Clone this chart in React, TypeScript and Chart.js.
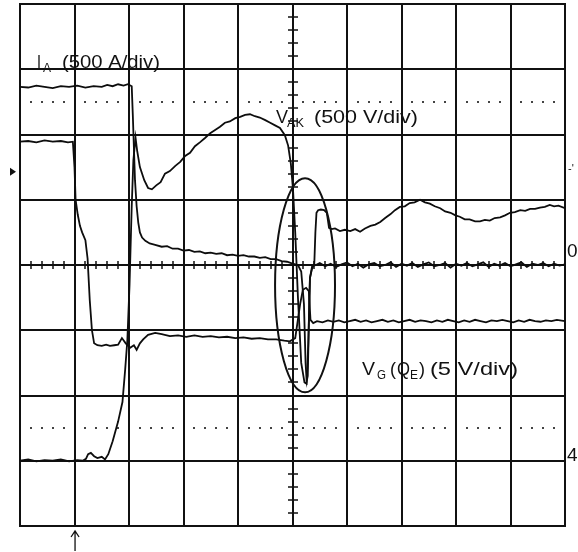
import React, { useEffect, useRef } from "react";
import { Chart, registerables } from "chart.js";

Chart.register(...registerables);

// Oscilloscope screen: 10 horizontal divisions, 8 vertical divisions (values in divisions)
const timeDivs = [-5, 5];
const levelDivs = [-4, 4];

// I_A (500 A/div)
const iaTrace: [number, number][] = [
  [-5.0, 2.73], [-4.85, 2.72], [-4.7, 2.75], [-4.55, 2.73], [-4.4, 2.71], [-4.25, 2.74], [-4.1, 2.73],
  [-3.95, 2.75], [-3.8, 2.72], [-3.65, 2.74], [-3.5, 2.73], [-3.4, 2.76], [-3.3, 2.74], [-3.2, 2.77],
  [-3.1, 2.75], [-3.02, 2.77], [-2.95, 2.74], [-2.93, 2.3], [-2.91, 1.8], [-2.89, 1.3], [-2.86, 0.9],
  [-2.83, 0.65], [-2.8, 0.5], [-2.76, 0.42], [-2.7, 0.37], [-2.62, 0.33], [-2.52, 0.31], [-2.4, 0.28],
  [-2.3, 0.29], [-2.2, 0.25], [-2.1, 0.25], [-2.0, 0.22], [-1.9, 0.23], [-1.8, 0.2], [-1.7, 0.21],
  [-1.6, 0.18], [-1.5, 0.19], [-1.4, 0.17], [-1.3, 0.18], [-1.2, 0.15], [-1.1, 0.16], [-1.0, 0.14],
  [-0.9, 0.15], [-0.8, 0.13], [-0.7, 0.13], [-0.6, 0.11], [-0.5, 0.12], [-0.4, 0.09], [-0.3, 0.09],
  [-0.2, 0.06], [-0.1, 0.05], [0.0, 0.02], [0.1, 0.0], [0.16, -0.1], [0.21, -0.6], [0.24, -1.5],
  [0.26, -1.78], [0.28, -1.7], [0.3, -0.9], [0.32, -0.2], [0.36, -0.02], [0.43, 0.0], [0.5, 0.03],
  [0.6, -0.02], [0.7, 0.02], [0.8, -0.03], [0.9, 0.01], [1.0, 0.04], [1.1, -0.02], [1.2, 0.02],
  [1.3, -0.04], [1.4, 0.01], [1.5, 0.03], [1.6, -0.02], [1.7, 0.0], [1.8, 0.04], [1.9, -0.03],
  [2.0, 0.02], [2.1, -0.01], [2.2, 0.03], [2.3, -0.03], [2.4, 0.01], [2.5, 0.04], [2.6, -0.02],
  [2.7, 0.0], [2.8, 0.03], [2.9, -0.04], [3.0, 0.02], [3.1, -0.01], [3.2, 0.03], [3.3, -0.02],
  [3.4, 0.01], [3.5, 0.04], [3.6, -0.03], [3.7, 0.02], [3.8, -0.01], [3.9, 0.03], [4.0, -0.02],
  [4.1, 0.01], [4.2, 0.04], [4.3, -0.03], [4.4, 0.02], [4.5, 0.0], [4.6, 0.03], [4.7, -0.02],
  [4.8, 0.02], [4.9, -0.01], [5.0, 0.01],
];

// V_AK (500 V/div)
const vakTrace: [number, number][] = [
  [-5.0, -3.0], [-4.85, -2.98], [-4.7, -3.01], [-4.55, -2.99], [-4.4, -3.0], [-4.25, -2.98],
  [-4.1, -3.01], [-3.95, -2.99], [-3.85, -3.0], [-3.79, -2.97], [-3.75, -2.9], [-3.7, -2.88],
  [-3.64, -2.93], [-3.58, -2.96], [-3.5, -2.94], [-3.44, -2.98], [-3.38, -2.9], [-3.3, -2.7],
  [-3.2, -2.4], [-3.12, -2.1], [-3.07, -1.6], [-3.03, -1.15], [-2.99, -0.3], [-2.95, 0.9],
  [-2.92, 1.6], [-2.88, 1.95], [-2.85, 1.75], [-2.8, 1.5], [-2.72, 1.3], [-2.65, 1.18],
  [-2.58, 1.16], [-2.5, 1.22], [-2.42, 1.27], [-2.34, 1.4], [-2.25, 1.44], [-2.15, 1.52],
  [-2.06, 1.58], [-1.97, 1.67], [-1.88, 1.72], [-1.79, 1.82], [-1.7, 1.88], [-1.6, 1.95],
  [-1.51, 2.02], [-1.42, 2.07], [-1.33, 2.12], [-1.24, 2.18], [-1.15, 2.2], [-1.05, 2.25],
  [-0.96, 2.27], [-0.87, 2.3], [-0.78, 2.31], [-0.69, 2.28], [-0.6, 2.26], [-0.5, 2.22],
  [-0.41, 2.18], [-0.32, 2.14], [-0.23, 2.1], [-0.14, 1.99], [-0.08, 1.83], [-0.03, 1.55],
  [0.01, 1.15], [0.05, 0.5], [0.1, -0.5], [0.16, -1.5], [0.22, -1.8], [0.26, -1.82],
  [0.29, -1.2], [0.32, -0.2], [0.36, -0.05], [0.4, 0.02], [0.42, 0.5], [0.44, 0.8],
  [0.47, 0.84], [0.52, 0.85], [0.58, 0.84], [0.63, 0.8], [0.67, 0.57], [0.72, 0.55],
  [0.78, 0.56], [0.87, 0.52], [0.96, 0.54], [1.06, 0.52], [1.15, 0.55], [1.24, 0.51],
  [1.33, 0.56], [1.43, 0.6], [1.52, 0.62], [1.61, 0.66], [1.7, 0.72], [1.8, 0.78],
  [1.88, 0.84], [1.97, 0.89], [2.06, 0.9], [2.15, 0.95], [2.24, 0.96], [2.34, 1.0],
  [2.43, 0.96], [2.52, 0.94], [2.61, 0.9], [2.71, 0.87], [2.8, 0.82], [2.9, 0.8],
  [2.99, 0.76], [3.07, 0.74], [3.16, 0.7], [3.25, 0.7], [3.35, 0.67], [3.44, 0.67],
  [3.53, 0.69], [3.62, 0.68], [3.71, 0.72], [3.81, 0.73], [3.9, 0.76], [3.99, 0.8],
  [4.08, 0.81], [4.18, 0.84], [4.27, 0.83], [4.36, 0.86], [4.45, 0.86], [4.54, 0.88],
  [4.63, 0.89], [4.72, 0.92], [4.8, 0.9], [4.88, 0.91], [5.0, 0.87],
];

// V_G (Q_E) (5 V/div)
const vgTrace: [number, number][] = [
  [-5.0, 1.89], [-4.85, 1.9], [-4.7, 1.88], [-4.55, 1.91], [-4.4, 1.89], [-4.25, 1.9],
  [-4.12, 1.88], [-4.03, 1.89], [-4.0, 1.5], [-3.98, 1.0], [-3.94, 0.77], [-3.9, 0.6],
  [-3.86, 0.5], [-3.8, 0.38], [-3.76, 0.1], [-3.72, -0.54], [-3.68, -1.0], [-3.64, -1.2],
  [-3.58, -1.23], [-3.5, -1.24], [-3.42, -1.22], [-3.35, -1.24], [-3.27, -1.23],
  [-3.2, -1.22], [-3.13, -1.12], [-3.06, -1.2], [-2.98, -1.27], [-2.91, -1.23],
  [-2.86, -1.3], [-2.8, -1.2], [-2.74, -1.14], [-2.65, -1.07], [-2.52, -1.04],
  [-2.4, -1.06], [-2.25, -1.09], [-2.1, -1.08], [-1.95, -1.1], [-1.8, -1.08], [-1.65, -1.1],
  [-1.5, -1.09], [-1.35, -1.11], [-1.2, -1.1], [-1.05, -1.12], [-0.9, -1.11], [-0.75, -1.13],
  [-0.6, -1.12], [-0.45, -1.14], [-0.3, -1.14], [-0.15, -1.16], [-0.05, -1.17],
  [0.05, -1.12], [0.14, -0.6], [0.19, -0.38], [0.25, -0.35], [0.3, -0.4], [0.33, -0.84],
  [0.38, -0.89], [0.45, -0.86], [0.55, -0.88], [0.65, -0.85], [0.75, -0.87], [0.85, -0.85],
  [0.95, -0.88], [1.05, -0.86], [1.15, -0.84], [1.25, -0.87], [1.35, -0.85], [1.45, -0.88],
  [1.55, -0.86], [1.65, -0.84], [1.75, -0.87], [1.85, -0.85], [1.95, -0.88], [2.05, -0.86],
  [2.15, -0.84], [2.25, -0.87], [2.35, -0.85], [2.45, -0.86], [2.55, -0.88], [2.65, -0.85],
  [2.75, -0.87], [2.85, -0.84], [2.95, -0.86], [3.05, -0.88], [3.15, -0.85], [3.25, -0.87],
  [3.35, -0.84], [3.45, -0.86], [3.55, -0.88], [3.65, -0.85], [3.75, -0.86], [3.85, -0.84],
  [3.95, -0.86], [4.05, -0.88], [4.15, -0.85], [4.25, -0.87], [4.35, -0.84], [4.45, -0.86],
  [4.55, -0.87], [4.65, -0.85], [4.75, -0.86], [4.85, -0.84], [5.0, -0.86],
];

// Highlight ellipse around the turn-off event (center x, center y, radius x, radius y), in divisions
const highlightEllipse = [0.23, -0.31, 0.55, 1.64];

// Dotted reference levels (divisions)
const dottedLevels = [2.5, -2.5];

// Right-edge scale markers
const edgeMarkerTexts = ["0", "4"];
const edgeMarkerLevels = [0.12, -3.0];

const FONT = "'Liberation Sans', Arial, Helvetica, sans-serif";

type Part = { text: string; x: number; width: number; size: number; dy: number };

function drawFitted(ctx: CanvasRenderingContext2D, p: Part, baseline: number) {
  ctx.font = `${p.size}px ${FONT}`;
  const w = ctx.measureText(p.text).width;
  ctx.save();
  ctx.translate(p.x, baseline + p.dy);
  ctx.scale(p.width / w, 1);
  ctx.fillText(p.text, 0, 0);
  ctx.restore();
}

const scopePlugin = {
  id: "scope",
  beforeDatasetsDraw(chart: any) {
    const { ctx, scales } = chart;
    const x = scales.x;
    const y = scales.y;
    const px = (v: number) => Math.round(x.getPixelForValue(v));
    const py = (v: number) => Math.round(y.getPixelForValue(v));
    ctx.save();
    ctx.strokeStyle = "#111";
    ctx.lineWidth = 2;
    ctx.beginPath();
    for (let i = timeDivs[0]; i <= timeDivs[1]; i++) {
      ctx.moveTo(px(i), py(levelDivs[1]) - 1);
      ctx.lineTo(px(i), py(levelDivs[0]) + 1);
    }
    for (let j = levelDivs[0]; j <= levelDivs[1]; j++) {
      ctx.moveTo(px(timeDivs[0]) - 1, py(j));
      ctx.lineTo(px(timeDivs[1]) + 1, py(j));
    }
    ctx.stroke();
    // minor ticks on center axes
    ctx.lineWidth = 1.5;
    ctx.beginPath();
    for (let k = timeDivs[0] * 5; k <= timeDivs[1] * 5; k++) {
      if (k % 5 === 0) continue;
      const xx = px(k / 5);
      ctx.moveTo(xx, py(0) - 4);
      ctx.lineTo(xx, py(0) + 4);
    }
    for (let k = levelDivs[0] * 5; k <= levelDivs[1] * 5; k++) {
      if (k % 5 === 0) continue;
      const yy = py(k / 5);
      ctx.moveTo(px(0) - 5, yy);
      ctx.lineTo(px(0) + 5, yy);
    }
    ctx.stroke();
    // dotted levels
    ctx.fillStyle = "#444";
    for (const lv of dottedLevels) {
      for (let k = timeDivs[0] * 5; k <= timeDivs[1] * 5; k++) {
        if (k % 5 === 0) continue;
        ctx.fillRect(px(k / 5) - 1, py(lv) - 1, 2, 2);
      }
    }
    ctx.restore();
  },
  afterDatasetsDraw(chart: any) {
    const { ctx, scales } = chart;
    const x = scales.x;
    const y = scales.y;
    ctx.save();
    // ellipse
    const [ecx, ecy, erx, ery] = highlightEllipse;
    const cxp = x.getPixelForValue(ecx);
    const cyp = y.getPixelForValue(ecy);
    const rxp = Math.abs(x.getPixelForValue(ecx + erx) - cxp);
    const ryp = Math.abs(y.getPixelForValue(ecy + ery) - cyp);
    ctx.strokeStyle = "#111";
    ctx.lineWidth = 2;
    ctx.beginPath();
    ctx.ellipse(cxp, cyp, rxp, ryp, 0, 0, Math.PI * 2);
    ctx.stroke();

    // labels
    ctx.fillStyle = "#111";
    ctx.textBaseline = "alphabetic";
    const iaParts: Part[] = [
      { text: "I", x: 37, width: 4, size: 18, dy: 0 },
      { text: "A", x: 43, width: 8, size: 12, dy: 4 },
      { text: "(500 A/div)", x: 62, width: 98, size: 18, dy: 0 },
    ];
    iaParts.forEach((p) => drawFitted(ctx, p, 68));
    const vakParts: Part[] = [
      { text: "V", x: 276, width: 12, size: 18, dy: 0 },
      { text: "AK", x: 287, width: 17, size: 12, dy: 4 },
      { text: "(500 V/div)", x: 314, width: 104, size: 18, dy: 0 },
    ];
    vakParts.forEach((p) => drawFitted(ctx, p, 123));
    const vgParts: Part[] = [
      { text: "V", x: 362, width: 13, size: 18, dy: 0 },
      { text: "G", x: 377, width: 9, size: 12, dy: 4 },
      { text: "(", x: 390, width: 6, size: 18, dy: 0 },
      { text: "Q", x: 397, width: 13, size: 18, dy: 0 },
      { text: "E", x: 410, width: 8, size: 12, dy: 4 },
      { text: ")", x: 419, width: 6, size: 18, dy: 0 },
      { text: "(5 V/div)", x: 430, width: 88, size: 18, dy: 0 },
    ];
    vgParts.forEach((p) => drawFitted(ctx, p, 375));

    // right edge markers
    ctx.font = `19px ${FONT}`;
    edgeMarkerTexts.forEach((t, i) => {
      ctx.fillText(t, 567, y.getPixelForValue(edgeMarkerLevels[i]));
    });
    ctx.font = `11px ${FONT}`;
    ctx.fillText("-'", 568, y.getPixelForValue(1.43));

    // left trigger-level marker
    const ty = y.getPixelForValue(1.43);
    ctx.beginPath();
    ctx.moveTo(10, ty - 4);
    ctx.lineTo(16, ty);
    ctx.lineTo(10, ty + 4);
    ctx.closePath();
    ctx.fill();

    // bottom trigger arrow
    const ax = x.getPixelForValue(-3.99);
    ctx.lineWidth = 1.3;
    ctx.beginPath();
    ctx.moveTo(ax, 551);
    ctx.lineTo(ax, 531);
    ctx.moveTo(ax - 4, 537);
    ctx.lineTo(ax, 531);
    ctx.lineTo(ax + 4, 537);
    ctx.stroke();
    ctx.restore();
  },
};

function toPoints(t: [number, number][]) {
  return t.map(([a, b]) => ({ x: a, y: b }));
}

export default function App() {
  const ref = useRef<HTMLCanvasElement | null>(null);
  useEffect(() => {
    document.body.style.margin = "0";
    if (!ref.current) return;
    const traceStyle = {
      showLine: true,
      borderColor: "#0d0d0d",
      borderWidth: 1.8,
      pointRadius: 0,
      tension: 0,
      fill: false,
    };
    const chart = new Chart(ref.current, {
      type: "scatter",
      data: {
        datasets: [
          { label: "I_A", data: toPoints(iaTrace), ...traceStyle },
          { label: "V_AK", data: toPoints(vakTrace), ...traceStyle },
          { label: "V_G", data: toPoints(vgTrace), ...traceStyle },
        ],
      },
      options: {
        animation: false,
        responsive: false,
        layout: { padding: { left: 20, right: 13, top: 4, bottom: 26 } },
        scales: {
          x: { type: "linear", min: timeDivs[0], max: timeDivs[1], display: false },
          y: { type: "linear", min: levelDivs[0], max: levelDivs[1], display: false },
        },
        plugins: { legend: { display: false }, tooltip: { enabled: false } },
      },
      plugins: [scopePlugin],
    } as any);
    return () => chart.destroy();
  }, []);
  return (
    <div style={{ width: 578, height: 552, position: "relative", background: "#fff" }}>
      <canvas ref={ref} width={578} height={552} style={{ display: "block" }} />
    </div>
  );
}
